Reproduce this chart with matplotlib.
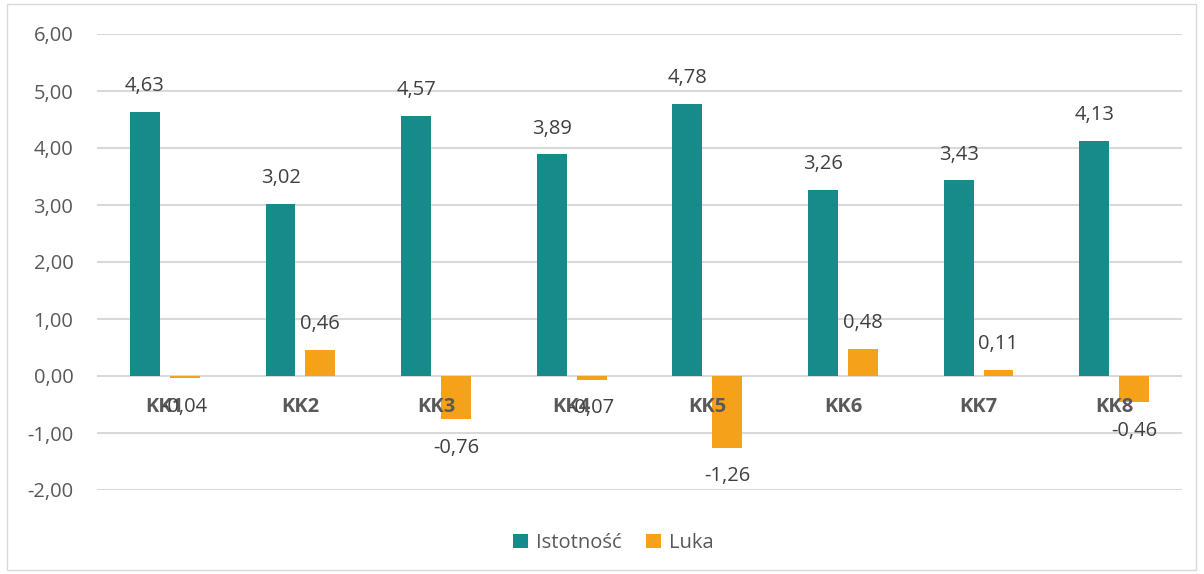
import matplotlib.pyplot as plt
from matplotlib.patches import Rectangle
import numpy as np

categories = ['KK1', 'KK2', 'KK3', 'KK4', 'KK5', 'KK6', 'KK7', 'KK8']
istotnosc = [4.63, 3.02, 4.57, 3.89, 4.78, 3.26, 3.43, 4.13]
luka = [-0.04, 0.46, -0.76, -0.07, -1.26, 0.48, 0.11, -0.46]
series_names = ['Istotność', 'Luka']
y_ticks = [-2, -1, 0, 1, 2, 3, 4, 5, 6]

TEAL = '#178B89'
ORANGE = '#F5A21A'
GRID = '#D9D9D9'

plt.rcParams['font.family'] = ['Open Sans', 'DejaVu Sans']


def fmt_pl(v):
    return ('%.2f' % v).replace('.', ',')


fig = plt.figure(figsize=(12.04, 5.74), dpi=100)
fig.patches.append(Rectangle((7 / 1204, 4 / 574), 1189 / 1204, 566 / 574,
                             transform=fig.transFigure, fill=False,
                             edgecolor=GRID, linewidth=1.0))

ax = fig.add_axes([97 / 1204, 1 - 490 / 574, 1085 / 1204, 456 / 574])

x = np.arange(len(categories))
w = 0.22
off = 0.147
b1 = ax.bar(x - off, istotnosc, w, color=TEAL, label=series_names[0], zorder=3)
b2 = ax.bar(x + off, luka, w, color=ORANGE, label=series_names[1], zorder=3)

ax.set_xlim(-0.5, len(categories) - 0.5)
ax.set_ylim(-2, 6)
ax.set_yticks(y_ticks)
ax.set_yticklabels([fmt_pl(t) for t in y_ticks])
ax.tick_params(axis='y', length=0, pad=17, labelsize=14.5, labelcolor='#595959')
ax.set_xticks([])
for s in ax.spines.values():
    s.set_visible(False)
ax.grid(axis='y', color=GRID, linewidth=1.5, zorder=0)

# category labels sit right under the zero line
for i, c in enumerate(categories):
    ax.annotate(c, (i, 0), xytext=(0, -22), textcoords='offset points',
                ha='center', va='center', fontsize=14.5, fontweight='bold',
                color='#595959', zorder=4)

for xs, vals in [(x - off, istotnosc), (x + off, luka)]:
    for xi, v in zip(xs, vals):
        dy = 18.5 if v >= 0 else -20.5
        ax.annotate(fmt_pl(v), (xi, v), xytext=(0, dy), textcoords='offset points',
                    ha='center', va='center', fontsize=14.5, color='#404040', zorder=5)

fig.legend(loc='center', bbox_to_anchor=(613 / 1204, 1 - 543 / 574), ncol=2,
           frameon=False, fontsize=14.5, handlelength=0.75, handleheight=0.75,
           handletextpad=0.4, columnspacing=1.2, labelcolor='#595959')

fig.savefig('out.png', dpi=100)
